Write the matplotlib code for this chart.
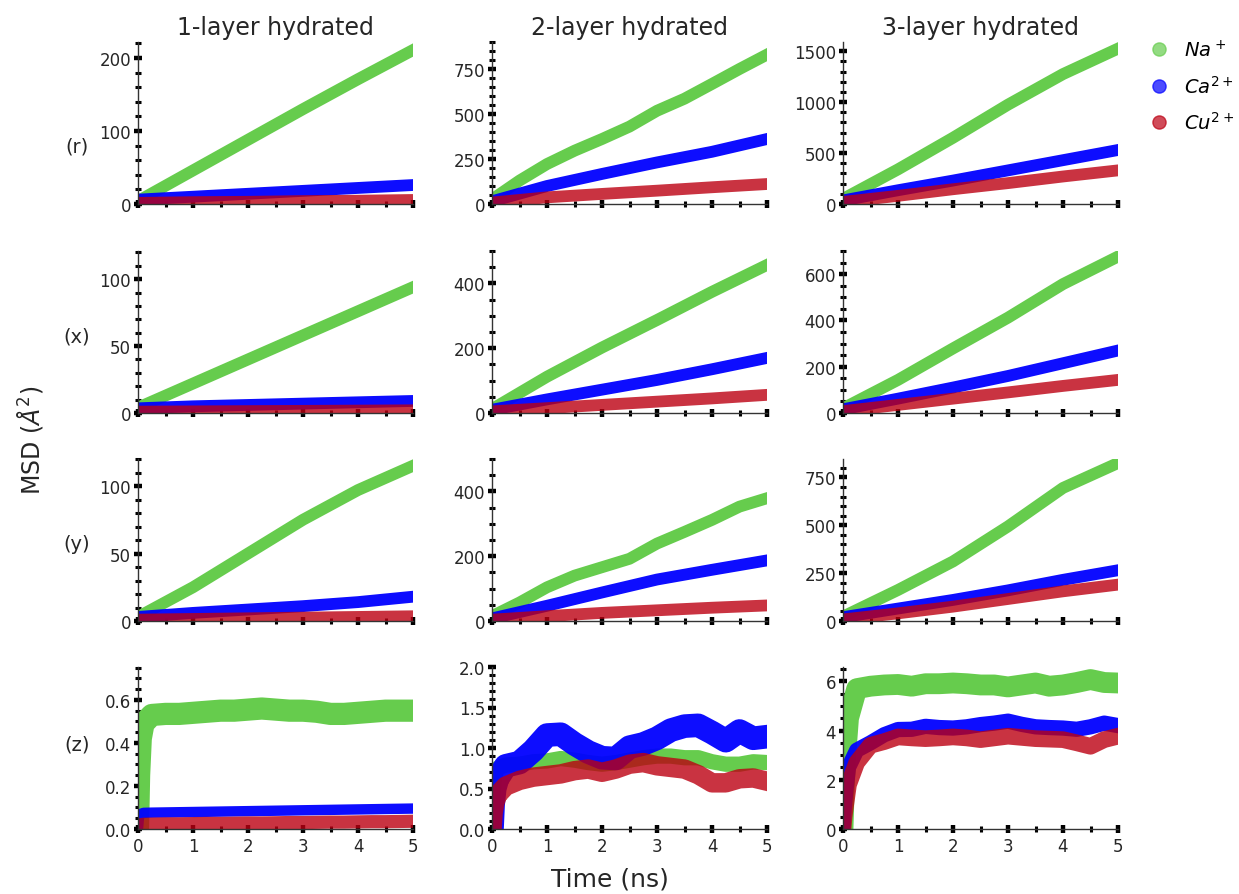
import matplotlib
matplotlib.use("Agg")
import matplotlib.pyplot as plt
from matplotlib.lines import Line2D
from matplotlib.ticker import MultipleLocator, AutoMinorLocator

# ---------------------------------------------------------------- data
columns = ["1-layer hydrated", "2-layer hydrated", "3-layer hydrated"]
rows = ["(r)", "(x)", "(y)", "(z)"]
ion_labels = [r"$Na^+$", r"$Ca^{2+}$", r"$Cu^{2+}$"]

# time grids (ns)
t_coarse = [0, 1, 2, 3, 4, 5]
t_half = [0, 0.5, 1, 1.5, 2, 2.5, 3, 3.5, 4, 4.5, 5]
t_z = [0, 0.02, 0.05, 0.1, 0.25, 0.5, 0.75, 1, 1.25, 1.5, 1.75, 2, 2.25,
       2.5, 2.75, 3, 3.25, 3.5, 3.75, 4, 4.25, 4.5, 4.75, 5]

# MSD r, 1/2/3-layer (A^2)
r1_na = [4, 46, 88, 130, 171, 211]
r1_ca = [6, 10, 14, 18, 22, 26]
r1_cu = [1.5, 2.5, 3, 4, 4.5, 5.5]
r2_na = [25, 130, 222, 296, 361, 430, 518, 585, 667, 750, 830]
r2_ca = [15, 100, 167, 231, 290, 361]
r2_cu = [8, 37, 56, 74, 93, 111]
r3_na = [50, 340, 650, 975, 1275, 1525]
r3_ca = [35, 135, 230, 330, 430, 530]
r3_cu = [20, 80, 145, 205, 270, 330]

# MSD x
x1_na = [4, 22, 40, 58, 76, 94]
x1_ca = [3.5, 5, 6, 7, 8, 9]
x1_cu = [1, 1.2, 1.4, 1.6, 1.8, 2]
x2_na = [12, 112, 202, 287, 374, 457]
x2_ca = [10, 42, 72, 102, 135, 170]
x2_cu = [5, 15, 25, 35, 45, 56]
x3_na = [20, 143, 279, 412, 557, 676]
x3_ca = [16, 62, 110, 160, 215, 270]
x3_cu = [8, 35, 62, 89, 117, 143]

# MSD y
y1_na = [3, 25, 50, 75, 97, 115]
y1_ca = [3, 6, 8.5, 11, 14, 18]
y1_cu = [1, 1.5, 2, 2.5, 3, 3.5]
y2_na = [15, 57, 104, 140, 166, 192, 239, 275, 312, 353, 379]
y2_ca = [8, 47, 88, 128, 158, 187]
y2_cu = [4, 15, 25, 33, 41, 48]
y3_na = [23, 162, 311, 494, 695, 825]
y3_ca = [20, 65, 110, 160, 215, 265]
y3_cu = [8, 40, 75, 115, 155, 190]

# MSD z
z1_na = [0.0, 0.25, 0.42, 0.49, 0.53, 0.535, 0.535, 0.54, 0.545, 0.55, 0.55,
         0.555, 0.56, 0.555, 0.55, 0.55, 0.545, 0.535, 0.535, 0.54, 0.545,
         0.55, 0.55, 0.55]
z1_ca = [0.0, 0.06, 0.07, 0.075, 0.076, 0.077, 0.078, 0.079, 0.08, 0.081,
         0.082, 0.083, 0.084, 0.085, 0.086, 0.087, 0.088, 0.089, 0.09, 0.091,
         0.092, 0.093, 0.094, 0.095]
z1_cu = [0.0, 0.015, 0.02, 0.022, 0.023, 0.024, 0.024, 0.025, 0.026, 0.026,
         0.027, 0.028, 0.028, 0.029, 0.03, 0.03, 0.031, 0.032, 0.032, 0.033,
         0.034, 0.034, 0.035, 0.036]
z2_na = [0.0, 0.4, 0.65, 0.75, 0.79, 0.8, 0.83, 0.84, 0.87, 0.85, 0.82, 0.8,
         0.82, 0.85, 0.88, 0.9, 0.9, 0.88, 0.88, 0.83, 0.8, 0.8, 0.83, 0.82]
z2_ca = [0.0, 0.3, 0.5, 0.62, 0.78, 0.82, 0.97, 1.16, 1.17, 1.05, 0.95, 0.88,
         0.87, 1.01, 1.05, 1.12, 1.22, 1.27, 1.28, 1.19, 1.09, 1.21, 1.12, 1.14]
z2_cu = [0.0, 0.2, 0.32, 0.42, 0.53, 0.6, 0.64, 0.66, 0.68, 0.72, 0.74, 0.7,
         0.74, 0.8, 0.82, 0.78, 0.76, 0.74, 0.67, 0.57, 0.57, 0.62, 0.63, 0.59]
z3_na = [0.0, 1.5, 3.0, 4.5, 5.7, 5.8, 5.85, 5.87, 5.8, 5.9, 5.9, 5.93, 5.9,
         5.85, 5.85, 5.77, 5.85, 5.93, 5.8, 5.85, 5.95, 6.07, 5.95, 5.93]
z3_ca = [0.0, 0.8, 1.5, 2.5, 3.2, 3.5, 3.83, 4.04, 4.05, 4.17, 4.12, 4.1, 4.15,
         4.24, 4.3, 4.38, 4.25, 4.15, 4.12, 4.1, 4.05, 4.15, 4.3, 4.2]
z3_cu = [0.0, 0.5, 1.0, 1.8, 2.7, 3.4, 3.55, 3.74, 3.7, 3.67, 3.7, 3.74, 3.7,
         3.63, 3.7, 3.77, 3.72, 3.67, 3.65, 3.63, 3.5, 3.36, 3.63, 3.77]

# y-axis limits and major tick steps per panel (row, column)
y_top = [[222, 900, 1590], [121, 500, 700], [120, 500, 846], [0.753, 2.0, 6.58]]
y_step = [[100, 250, 500], [50, 200, 200], [50, 200, 250], [0.2, 0.5, 2]]

# --------------------------------------------------------------- styles
green = "#66cc4d"
blue = "#0000ff"
red = "#bc0012"
series_style = [dict(color=green, alpha=1.0), dict(color=blue, alpha=0.95),
                dict(color=red, alpha=0.8)]
text_col = "#262626"

# band widths (pt): straight MSD rows share one width, the noisy z row
# gets a width per column and ion
lw_linear = 8.5
lw_z = [[16, 7.5, 9.5], [11, 17, 14], [15, 11, 12]]

panels = [
    [((t_coarse, r1_na), (t_coarse, r1_ca), (t_coarse, r1_cu)),
     ((t_half, r2_na), (t_coarse, r2_ca), (t_coarse, r2_cu)),
     ((t_coarse, r3_na), (t_coarse, r3_ca), (t_coarse, r3_cu))],
    [((t_coarse, x1_na), (t_coarse, x1_ca), (t_coarse, x1_cu)),
     ((t_coarse, x2_na), (t_coarse, x2_ca), (t_coarse, x2_cu)),
     ((t_coarse, x3_na), (t_coarse, x3_ca), (t_coarse, x3_cu))],
    [((t_coarse, y1_na), (t_coarse, y1_ca), (t_coarse, y1_cu)),
     ((t_half, y2_na), (t_coarse, y2_ca), (t_coarse, y2_cu)),
     ((t_coarse, y3_na), (t_coarse, y3_ca), (t_coarse, y3_cu))],
    [((t_z, z1_na), (t_z, z1_ca), (t_z, z1_cu)),
     ((t_z, z2_na), (t_z, z2_ca), (t_z, z2_cu)),
     ((t_z, z3_na), (t_z, z3_ca), (t_z, z3_cu))],
]

W, H = 1239, 895
fig = plt.figure(figsize=(W / 100, H / 100), dpi=100)

col_left = [138, 492, 843]
row_top = [43, 252, 460, 668]
ax_w, ax_h = 275, 162

for i in range(4):
    for j in range(3):
        ax = fig.add_axes([col_left[j] / W, 1 - (row_top[i] + ax_h) / H,
                           ax_w / W, ax_h / H])
        for k, ((t, v), st) in enumerate(zip(panels[i][j], series_style)):
            lw = lw_z[j][k] if i == 3 else lw_linear
            ax.plot(t, v, lw=lw, solid_capstyle="projecting",
                    solid_joinstyle="round", **st)
        ax.set_xlim(0, 5)
        ax.set_ylim(0, y_top[i][j])
        ax.xaxis.set_major_locator(MultipleLocator(1))
        ax.xaxis.set_minor_locator(MultipleLocator(0.5))
        ax.yaxis.set_major_locator(MultipleLocator(y_step[i][j]))
        ax.yaxis.set_minor_locator(AutoMinorLocator())
        for side in ("top", "right"):
            ax.spines[side].set_visible(False)
        for side in ("left", "bottom"):
            ax.spines[side].set_color("#333333")
            ax.spines[side].set_linewidth(1.0)
            ax.spines[side].set_zorder(5)
        ax.tick_params(which="major", direction="inout", length=6, width=3.2,
                       color="black", labelsize=12, labelcolor=text_col, pad=2)
        ax.tick_params(which="minor", direction="inout", length=4, width=2.2,
                       color="black")
        ax.tick_params(axis="x", pad=3)
        if i < 3:
            ax.tick_params(axis="x", labelbottom=False)
        if i == 0:
            ax.set_title(columns[j], fontsize=17, color=text_col, pad=6)

# row labels
row_label_y = [147, 337, 545, 745]
for lab, yy in zip(rows, row_label_y):
    fig.text(77 / W, 1 - yy / H, lab, fontsize=14, color=text_col,
             ha="center", va="center")

fig.text(30 / W, 1 - 440 / H, r"MSD ($Å^2$)", fontsize=17, color=text_col,
         rotation=90, ha="center", va="center")
fig.text(610 / W, 1 - 880 / H, "Time (ns)", fontsize=18, color=text_col,
         ha="center", va="center")

handles = [Line2D([], [], ls="none", marker="o", markersize=9.5,
                  color=st["color"], alpha=0.7) for st in series_style]
fig.legend(handles, ion_labels, loc="upper left",
           bbox_to_anchor=(1132 / W, 1 - 32 / H), frameon=False, fontsize=14,
           handletextpad=0.3, labelspacing=0.75, borderaxespad=0)

fig.savefig("out.png", dpi=100)
